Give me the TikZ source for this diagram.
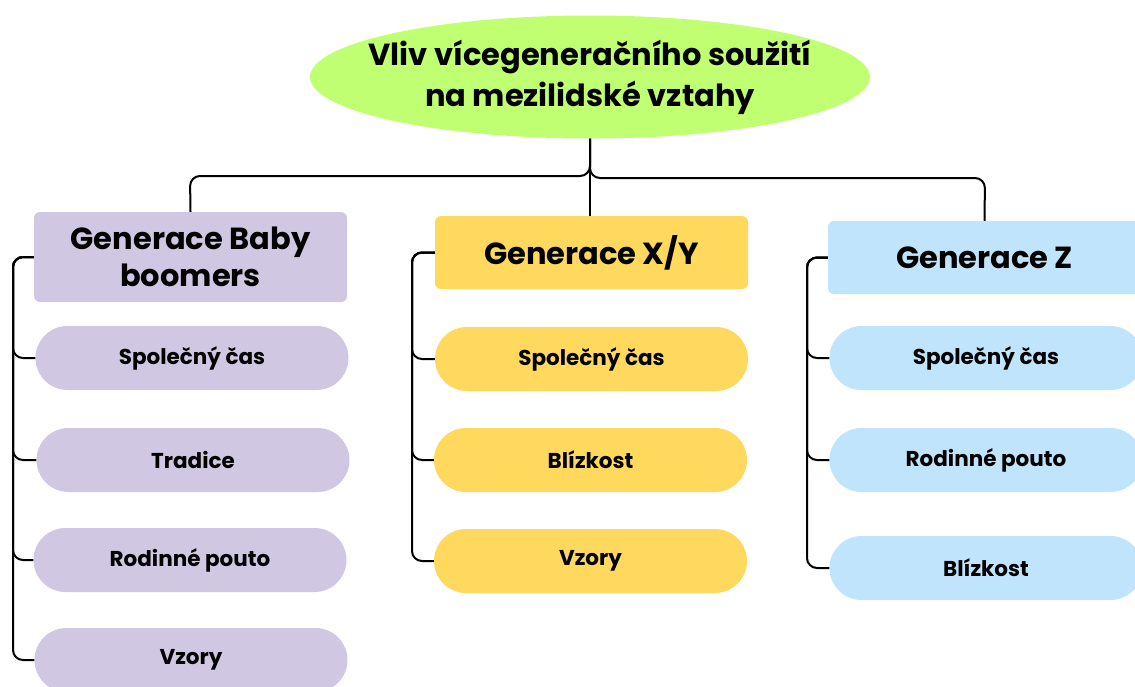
\documentclass[tikz,border=0pt]{standalone}
\usepackage{fontspec}
\setmainfont{Poppins}
\usetikzlibrary{shapes.geometric,shapes.misc,calc}
\definecolor{rootgreen}{HTML}{C1FF72}
\definecolor{lav}{HTML}{D0C8E3}
\definecolor{yel}{HTML}{FFD95E}
\definecolor{sky}{HTML}{C1E4FD}
\begin{document}
\begin{tikzpicture}[x=1pt,y=-1pt,
  conn/.style={draw=black, line width=2pt, rounded corners=10pt},
  hdr/.style={rectangle, rounded corners=6pt, minimum width=313pt, inner sep=0pt, align=center,
    font=\bfseries\fontsize{30.5}{37}\selectfont},
  pill/.style={rounded rectangle, minimum width=313pt, minimum height=64pt, inner sep=0pt,
    font=\bfseries\fontsize{21.5}{24}\selectfont}]
\useasboundingbox (0,0) rectangle (1135,686);
\clip (0,0) rectangle (1135,686);
% root
\node[ellipse, fill=rootgreen, minimum width=560pt, minimum height=123pt, inner sep=0pt] (root) at (590,77) {};
\node[align=center, inner sep=0pt, font=\bfseries\fontsize{30.5}{41}\selectfont] (roottext) at (root.center) {Vliv vícegeneračního soužití\\na mezilidské vztahy};
% headers
\node[hdr, fill=lav, minimum height=90pt] (bb) at (190.5,257) {Generace Baby\\boomers};
\node[hdr, fill=yel, minimum height=73pt] (xy) at (591.5,252.5) {Generace X/Y};
\node[hdr, fill=sky, minimum height=73pt] (zb) at (984.5,257.5) {Generace Z};
% left pills
\node[pill, fill=lav] (l1) at (192,358) {Společný čas};
\node[pill, fill=lav] (l2) at (193,460) {Tradice};
\node[pill, fill=lav] (l3) at (190,560) {Rodinné pouto};
\node[pill, fill=lav] (l4) at (191,660) {Vzory};
% middle pills
\node[pill, fill=yel] (m1) at (591.5,359) {Společný čas};
\node[pill, fill=yel] (m2) at (590.5,460) {Blízkost};
\node[pill, fill=yel] (m3) at (590.5,561) {Vzory};
% right pills
\node[pill, fill=sky] (r1) at (986,358) {Společný čas};
\node[pill, fill=sky] (r2) at (986,460) {Rodinné pouto};
\node[pill, fill=sky] (r3) at (986,568) {Blízkost};
% top connectors
\draw[conn] (root.south) |- (190,176) -- (bb.north);
\draw[conn] (root.south) |- (985,178) -- (zb.north);
\draw[conn] (root.south) -- (root.south |- xy.north);
% side connectors
\foreach \p in {l1,l2,l3,l4}{\draw[conn] (bb.west) -| (13,300) |- (\p.west);}
\foreach \p in {m1,m2,m3}{\draw[conn] (xy.west) -| (412,300) |- (\p.west);}
\foreach \p in {r1,r2,r3}{\draw[conn] (zb.west) -| (807,300) |- (\p.west);}
\end{tikzpicture}
\end{document}
